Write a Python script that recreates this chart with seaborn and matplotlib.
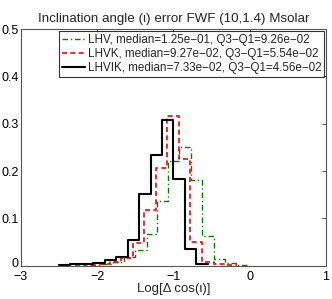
import matplotlib
matplotlib.use("Agg")
import matplotlib.pyplot as plt
import matplotlib.transforms as mtransforms
import seaborn as sns

# bin edges and fractions
lhv_edges = [-2.10, -1.94, -1.79, -1.645, -1.50, -1.35, -1.21, -1.07, -0.928,
             -0.774, -0.622, -0.469, -0.318, -0.167, -0.016]
lhv_frac = [0.002, 0.004, 0.008, 0.018, 0.033, 0.067, 0.137, 0.222, 0.251,
            0.182, 0.063, 0.014, 0.005, 0.002]

lhvk_edges = [-2.287, -2.136, -1.985, -1.834, -1.683, -1.532, -1.381, -1.230,
              -1.079, -0.928, -0.777, -0.626, -0.475, -0.324, -0.173]
lhvk_frac = [0.001, 0.003, 0.004, 0.008, 0.016, 0.048, 0.118, 0.206, 0.316,
             0.226, 0.051, 0.008, 0.003, 0.001]

lhvik_edges = [-2.5, -2.35, -2.2, -2.05, -1.9, -1.75, -1.6, -1.45, -1.3,
               -1.15, -1.0, -0.85, -0.7, -0.55]
lhvik_frac = [0.001, 0.003, 0.003, 0.006, 0.012, 0.019, 0.054, 0.151, 0.233,
              0.308, 0.183, 0.035, 0.004]

labels = ["LHV, median=1.25e\u221201, Q3\u2212Q1=9.26e\u221202",
          "LHVK, median=9.27e\u221202, Q3\u2212Q1=5.54e\u221202",
          "LHVIK, median=7.33e\u221202, Q3\u2212Q1=4.56e\u221202"]

sns.set_style("white")
plt.rcParams['font.family'] = ['Liberation Sans', 'DejaVu Sans']

fig = plt.figure(figsize=(3.32, 2.99), dpi=100)
ax = fig.add_axes([0.063, 0.111, 0.919, 0.792])

series = [
    (lhv_edges, lhv_frac, "#008000", (0, (4, 2, 1, 2)), 1.0),
    (lhvk_edges, lhvk_frac, "#ff0000", (0, (3, 2)), 1.2),
    (lhvik_edges, lhvik_frac, "black", "-", 1.5),
]
handles = []
for (edges, frac, col, ls, lw), lab in zip(series, labels):
    centers = [(a + b) / 2 for a, b in zip(edges[:-1], edges[1:])]
    sns.histplot(x=centers, weights=frac, bins=edges, element="step",
                 fill=False, color=col, linestyle=ls, linewidth=lw, ax=ax)
    h, = ax.plot([], [], color=col, linestyle=ls, linewidth=lw, label=lab)
    handles.append(h)

ax.set_xlim(-3, 1)
ax.set_ylim(0, 0.5)
ax.set_xticks([-3, -2, -1, 0, 1])
ax.set_yticks([0, 0.1, 0.2, 0.3, 0.4, 0.5])
ax.set_xticklabels(["\u22123", "\u22122", "\u22121", "0", "1"])
ax.set_yticklabels(["0", "0.1", "0.2", "0.3", "0.4", "0.5"])
ax.tick_params(direction="in", length=3, width=0.6, top=True, right=True,
               labelsize=9, pad=1.5, colors="#333333", labelcolor="black")
ax.tick_params(axis="x", pad=3.5)
for s in ax.spines.values():
    s.set_color("#555555")
    s.set_linewidth(0.8)

# nudge the "0" y label up a little so it clears the "-3" below it
zero_lab = ax.get_yticklabels()[0]
zero_lab.set_transform(zero_lab.get_transform() +
                       mtransforms.ScaledTranslation(0, 3 / 100, fig.dpi_scale_trans))

ax.set_ylabel("")
ax.set_xlabel("Log[\u0394 cos(\u03b9)]", fontsize=9.5, labelpad=0)
ax.set_title("Inclination angle (\u03b9) error FWF (10,1.4) Msolar",
             fontsize=9.6, pad=5)

leg = ax.legend(handles=handles, loc="upper right", fontsize=8.4,
                frameon=True, fancybox=False, handlelength=2.0,
                handletextpad=0.2, borderpad=0.25, labelspacing=0.2,
                borderaxespad=0.15, edgecolor="black")
leg.get_frame().set_linewidth(0.8)

fig.savefig("out.png", dpi=100)
